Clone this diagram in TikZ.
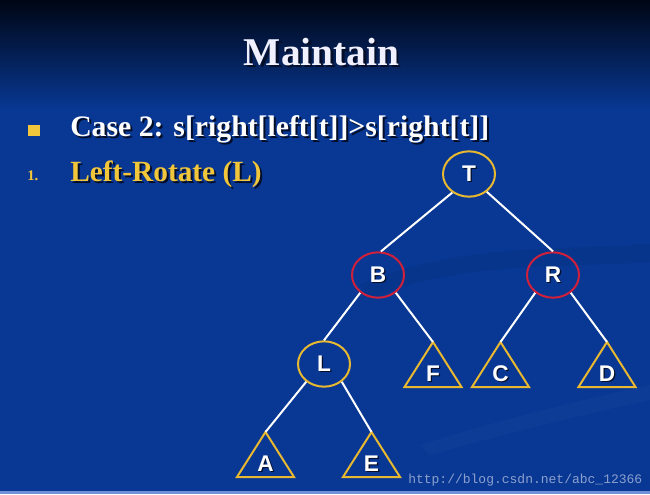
\documentclass[tikz,border=0pt]{standalone}
\usepackage{fontspec}
\setmainfont{Liberation Serif}
\newfontfamily\lsans{Liberation Sans}
\newfontfamily\lmono{Liberation Mono}
\usetikzlibrary{shapes.geometric,calc}
\definecolor{bgblue}{RGB}{8,56,148}
\definecolor{bgtop}{RGB}{0,6,20}
\definecolor{nodeyellow}{RGB}{232,184,48}
\definecolor{nodered}{RGB}{208,32,58}
\definecolor{txtyellow}{RGB}{242,198,58}
\definecolor{titlewhite}{RGB}{240,240,255}
\definecolor{shadowc}{RGB}{4,14,40}
\definecolor{wmcolor}{RGB}{140,160,205}
\definecolor{bottomline}{RGB}{110,145,215}
\newcommand\shd[2][1.5pt]{\makebox[0pt][l]{\kern#1\raisebox{-#1}{\color{shadowc}#2}}#2}
\tikzset{
  circY/.style={ellipse, draw=nodeyellow, line width=1.5pt, minimum width=39pt,
    minimum height=34pt, inner sep=0pt, text=white,
    font=\lsans\bfseries\fontsize{17}{17}\selectfont},
  circR/.style={circY, draw=nodered},
  edgeline/.style={draw=white, line width=1.5pt},
  tri/.style={draw=nodeyellow, line width=1.5pt, line join=miter},
  lbl/.style={inner sep=0pt, text=white, font=\lsans\bfseries\fontsize{17}{17}\selectfont},
}
\begin{document}
\begin{tikzpicture}[x=0.75pt,y=-0.75pt]
\useasboundingbox (0,0) rectangle (650,494);
% background
\fill[bgblue] (0,0) rectangle (650,494);
\shade[top color=bgtop, bottom color=bgblue] (0,0) rectangle (650,110);
\fill[black,opacity=0.05] (360,285) .. controls (450,245) and (550,250) .. (650,244)
  -- (650,262) .. controls (550,268) and (450,262) .. (370,300) -- cycle;
\fill[white,opacity=0.025] (420,445) .. controls (500,420) and (580,400) .. (650,385)
  -- (650,400) .. controls (580,415) and (500,435) .. (430,455) -- cycle;
\fill[bottomline] (0,491) rectangle (650,494);

% texts
\node[anchor=base, inner sep=0pt, text=titlewhite,
  font=\bfseries\fontsize{29.5}{30}\selectfont] (title) at (321.5,65) {\shd[2pt]{Maintain}};
\node[fill=txtyellow, minimum size=8.5pt, inner sep=0pt] (bul) at (34,130.5) {};
\node[anchor=base west, inner sep=0pt, text=white,
  font=\bfseries\fontsize{22.3}{23}\selectfont] (case) at (70,136)
  {\shd{Case 2: s[right[left[t]]>s[right[t]]}};
\node[anchor=base west, inner sep=0pt, text=txtyellow,
  font=\bfseries\fontsize{11}{11}\selectfont] (num) at (27,180) {1.};
\node[anchor=base west, inner sep=0pt, text=txtyellow,
  font=\bfseries\fontsize{22}{22}\selectfont] (rot) at (70,181)
  {\shd{Left-Rotate (L)}};

% tree nodes
\node[circY] (T) at (469,174) {\shd[1pt]{T}};
\node[circR] (B) at (378,275) {\shd[1pt]{B}};
\node[circR] (R) at (553,275) {\shd[1pt]{R}};
\node[circY] (L) at (324,364) {\shd[1pt]{L}};

% subtrees
\coordinate (F) at (433,342);
\coordinate (C) at (500.5,342);
\coordinate (D) at (607,342);
\coordinate (A) at (265.5,432);
\coordinate (E) at (371.5,432);
\foreach \p in {F,C,D,A,E}{
  \draw[tri] (\p) -- ++(-28.5,45) -- ++(57,0) -- cycle;
}
\node[lbl] (Fl) at ($(F)+(0,32)$) {\shd[1pt]{F}};
\node[lbl] (Cl) at ($(C)+(0,32)$) {\shd[1pt]{C}};
\node[lbl] (Dl) at ($(D)+(0,32)$) {\shd[1pt]{D}};
\node[lbl] (Al) at ($(A)+(0,32)$) {\shd[1pt]{A}};
\node[lbl] (El) at ($(E)+(0,32)$) {\shd[1pt]{E}};

% edges
\draw[edgeline] (T.228) -- (B.83);
\draw[edgeline] (T.315) -- (R.90);
\draw[edgeline] (B.225) -- (L.90);
\draw[edgeline] (B.315) -- (F);
\draw[edgeline] (R.225) -- (C);
\draw[edgeline] (R.315) -- (D);
\draw[edgeline] (L.225) -- (A);
\draw[edgeline] (L.315) -- (E);

% watermark
\node[anchor=base west, inner sep=0pt, text=wmcolor,
  font=\lmono\fontsize{9.75}{10}\selectfont] (wm) at (408,483) {http://blog.csdn.net/abc\_12366};
\end{tikzpicture}
\end{document}
